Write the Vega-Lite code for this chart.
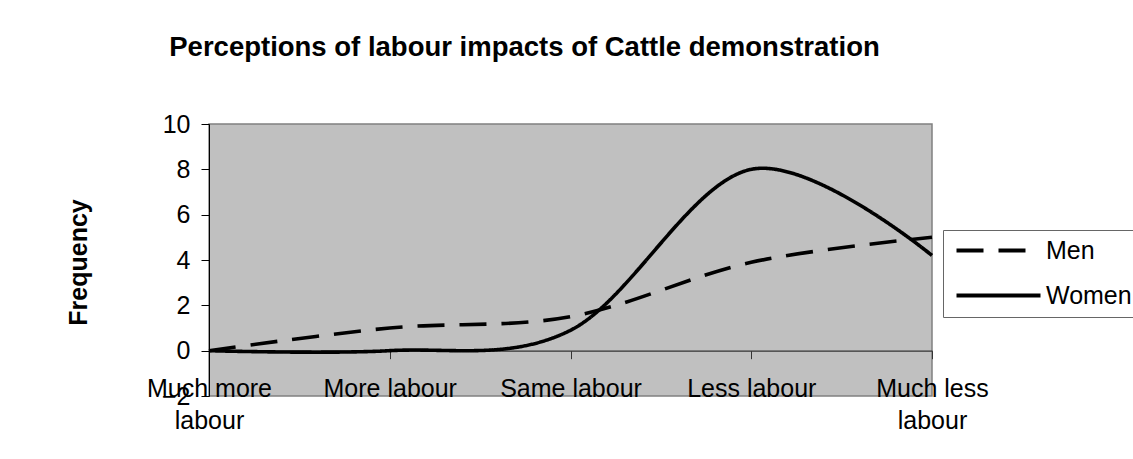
{
  "$schema": "https://vega.github.io/schema/vega-lite/v6.json",
  "width": 723,
  "height": 272,
  "autosize": {"type": "none"},
  "padding": {"left": 209, "top": 124, "right": 201, "bottom": 63},
  "background": "white",
  "title": {
    "text": "Perceptions of labour impacts of Cattle demonstration",
    "frame": "group",
    "anchor": "middle",
    "dx": -46,
    "offset": 29,
    "baseline": "alphabetic",
    "fontSize": 27.5,
    "font": "Liberation Sans",
    "fontWeight": "bold",
    "color": "black"
  },
  "data": {
    "values": [
      {"group": "Men", "response": "Much more labour", "rank": 1, "frequency": 0},
      {"group": "Men", "response": "More labour", "rank": 2, "frequency": 1.0},
      {"group": "Men", "response": "Same labour", "rank": 3, "frequency": 1.5},
      {"group": "Men", "response": "Less labour", "rank": 4, "frequency": 3.9},
      {"group": "Men", "response": "Much less labour", "rank": 5, "frequency": 5.0},
      {"group": "Women", "response": "Much more labour", "rank": 1, "frequency": 0},
      {"group": "Women", "response": "More labour", "rank": 2, "frequency": 0},
      {"group": "Women", "response": "Same labour", "rank": 3, "frequency": 0.9},
      {"group": "Women", "response": "Less labour", "rank": 4, "frequency": 8.0},
      {"group": "Women", "response": "Much less labour", "rank": 5, "frequency": 4.2}
    ]
  },
  "mark": {"type": "line", "interpolate": "cardinal", "tension": 0, "strokeWidth": 3.6, "color": "black", "clip": false},
  "encoding": {
    "x": {
      "field": "response",
      "type": "ordinal",
      "sort": ["Much more labour", "More labour", "Same labour", "Less labour", "Much less labour"],
      "scale": {"type": "point", "padding": 0},
      "axis": {
        "title": null,
        "offset": -45.333,
        "domainColor": "#333333",
        "domainWidth": 1.2,
        "tickColor": "#333333",
        "tickSize": 8,
        "labelFont": "Liberation Sans",
        "labelFontSize": 25,
        "labelColor": "black",
        "labelAngle": 0,
        "labelAlign": "center",
        "labelBaseline": "alphabetic",
        "labelPadding": 38,
        "labelLineHeight": 32,
        "labelOverlap": false,
        "labelFlush": false,
        "labelBound": false,
        "labelExpr": "datum.label == 'Much more labour' ? ['Much more', 'labour'] : datum.label == 'Much less labour' ? ['Much less', 'labour'] : datum.label"
      }
    },
    "y": {
      "field": "frequency",
      "type": "quantitative",
      "scale": {"domain": [-2, 10], "nice": false, "zero": false},
      "axis": {
        "title": "Frequency",
        "values": [-2, 0, 2, 4, 6, 8, 10],
        "grid": false,
        "domainColor": "black",
        "tickColor": "black",
        "tickSize": 8,
        "labelFont": "Liberation Sans",
        "labelFontSize": 25,
        "labelColor": "black",
        "labelPadding": 11,
        "labelBaseline": "middle",
        "labelFlush": false,
        "labelOverlap": false,
        "titleFont": "Liberation Sans",
        "titleFontSize": 25,
        "titleFontWeight": "bold",
        "titleColor": "black",
        "titleAngle": 270,
        "titleAlign": "center",
        "titleBaseline": "alphabetic",
        "titleX": -123,
        "titleY": 138
      }
    },
    "strokeDash": {
      "field": "group",
      "type": "nominal",
      "scale": {"domain": ["Men", "Women"], "range": [[27, 15], [1, 0]]},
      "legend": {
        "orient": "none",
        "legendX": 734,
        "legendY": 106,
        "title": null,
        "fillColor": "white",
        "strokeColor": "#666666",
        "padding": 8,
        "symbolType": "M-4,0H4",
        "symbolSize": 441,
        "symbolStrokeWidth": 4,
        "symbolStrokeColor": "black",
        "symbolOffset": 35,
        "labelFont": "Liberation Sans",
        "labelFontSize": 25,
        "labelColor": "black",
        "labelOffset": 35,
        "rowPadding": 19
      }
    },
    "order": {"field": "rank", "type": "quantitative"}
  },
  "config": {
    "view": {"fill": "#c0c0c0", "stroke": "#808080", "strokeWidth": 1.5},
    "font": "Liberation Sans"
  }
}
